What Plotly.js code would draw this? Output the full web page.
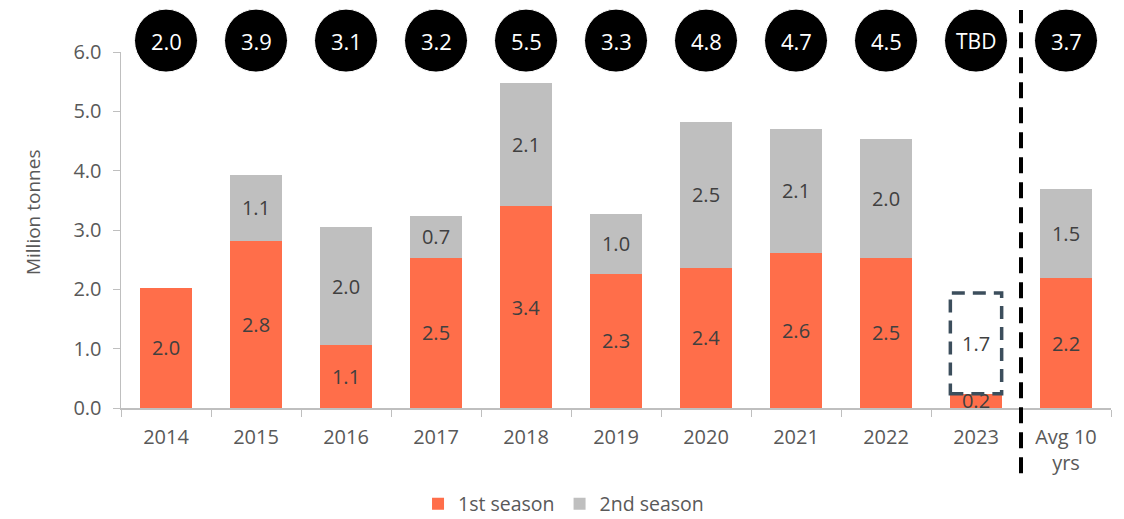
<!DOCTYPE html>
<html>
<head>
<meta charset="utf-8">
<script src="https://cdn.plot.ly/plotly-3.0.1.min.js"></script>
<style>html,body{margin:0;padding:0;background:#fff;}#chart{width:1124px;height:519px;}</style>
</head>
<body>
<div id="chart"></div>
<script>
const categories = ["2014","2015","2016","2017","2018","2019","2020","2021","2022","2023","Avg 10<br>yrs"];
const firstSeason = [2.03, 2.82, 1.06, 2.53, 3.40, 2.26, 2.36, 2.61, 2.53, 0.24, 2.19];
const secondSeason = [null, 1.11, 1.99, 0.71, 2.07, 1.01, 2.46, 2.10, 2.01, null, 1.50];
const totalLabels = ["2.0","3.9","3.1","3.2","5.5","3.3","4.8","4.7","4.5","TBD","3.7"];
const expectedSecond2023 = 1.7;
const yTicks = [0, 1, 2, 3, 4, 5, 6];
const yTitle = "Million tonnes";

const FONT = "'Open Sans', Lato, sans-serif";
const ORANGE = "#FF6E4A";
const GREY = "#BFBFBF";
const TXT = "#595959";
const idx2023 = categories.indexOf("2023");
const barHalf = 0.285;
const circleYPaper = 1.032;
const circleR = 31.5;

const traces = [
  {
    type: "bar", name: "1st season", x: categories, y: firstSeason,
    marker: {color: ORANGE},
    text: firstSeason.map(v => v == null ? "" : v.toFixed(1)),
    textposition: "inside", insidetextanchor: "middle", constraintext: "none",
    textangle: 0,
    textfont: {family: FONT, size: 20, color: "#404040"},
    hoverinfo: "skip"
  },
  {
    type: "bar", name: "2nd season", x: categories, y: secondSeason,
    marker: {color: GREY},
    text: secondSeason.map(v => v == null ? "" : v.toFixed(1)),
    textposition: "inside", insidetextanchor: "middle", constraintext: "none",
    textangle: 0,
    textfont: {family: FONT, size: 20, color: "#404040"},
    hoverinfo: "skip"
  }
];

const base2023 = firstSeason[idx2023];
const shapes = [
  {
    type: "rect", xref: "x", yref: "y",
    x0: idx2023 - barHalf, x1: idx2023 + barHalf,
    y0: base2023, y1: base2023 + expectedSecond2023,
    line: {color: "#3C4E5C", width: 3.5, dash: "13px,8px"}, fillcolor: "rgba(0,0,0,0)"
  },
  {
    type: "line", xref: "x", yref: "paper",
    x0: idx2023 + 0.5, x1: idx2023 + 0.5, y0: -0.183, y1: 1.118,
    line: {color: "#000000", width: 4, dash: "16px,9px"}
  }
];

const annotations = [
  {
    x: idx2023, y: base2023 + expectedSecond2023 / 2,
    xref: "x", yref: "y", text: expectedSecond2023.toFixed(1), showarrow: false,
    font: {family: FONT, size: 20, color: "#404040"}
  },
  {
    x: -0.089, y: 0.55, xref: "paper", yref: "paper", text: yTitle, textangle: -90,
    showarrow: false, xanchor: "center", yanchor: "middle",
    font: {family: FONT, size: 19, color: TXT}
  }
];

categories.forEach((c, i) => {
  shapes.push({
    type: "circle", xref: "x", yref: "paper",
    xsizemode: "pixel", ysizemode: "pixel",
    xanchor: i, yanchor: circleYPaper,
    x0: -circleR, x1: circleR, y0: -circleR, y1: circleR,
    fillcolor: "#000000", line: {color: "#ffffff", width: 1}
  });
  annotations.push({
    x: i, y: circleYPaper, xref: "x", yref: "paper", text: totalLabels[i], showarrow: false,
    xanchor: "center", yanchor: "middle",
    font: {family: FONT, size: totalLabels[i] === "TBD" ? 21 : 22, color: "#ffffff"}
  });
});

const layout = {
  width: 1124, height: 519,
  margin: {l: 121, r: 13, t: 52, b: 111.3, autoexpand: false},
  paper_bgcolor: "#ffffff", plot_bgcolor: "#ffffff",
  barmode: "stack", bargap: 0.43,
  font: {family: FONT, color: TXT, size: 19},
  xaxis: {
    type: "category", categoryorder: "array", categoryarray: categories,
    range: [-0.5, categories.length - 0.5],
    showline: true, linecolor: GREY, linewidth: 1.5,
    ticks: "outside", tickson: "boundaries", ticklen: 7, tickcolor: GREY,
    tickangle: 0, ticklabelstandoff: 10,
    tickfont: {family: FONT, size: 20, color: TXT},
    showgrid: false, zeroline: false, fixedrange: true
  },
  yaxis: {
    range: [0, 6], tickvals: yTicks, tickformat: ".1f",
    showline: true, linecolor: GREY, linewidth: 1.5,
    ticks: "outside", ticklen: 7, tickcolor: GREY, ticklabelstandoff: 7,
    tickfont: {family: FONT, size: 20, color: TXT},
    showgrid: false, zeroline: false
  },
  legend: {
    orientation: "h", x: 0.447, xanchor: "center", y: -0.27, yanchor: "middle",
    font: {family: FONT, size: 19.5, color: TXT}, traceorder: "normal", itemwidth: 30
  },
  shapes: shapes, annotations: annotations, showlegend: true
};

Plotly.newPlot("chart", traces, layout, {displayModeBar: false, staticPlot: true});
</script>
</body>
</html>
